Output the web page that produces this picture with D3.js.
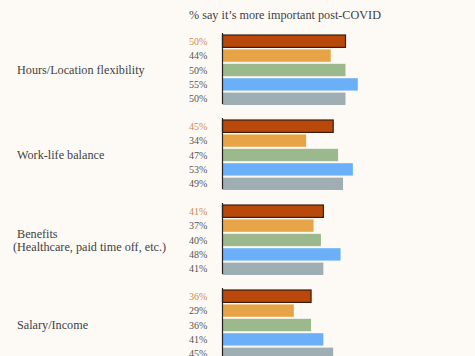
<!DOCTYPE html>
<html>
<head>
<meta charset="utf-8">
<script src="https://cdn.jsdelivr.net/npm/d3@7"></script>
<style>
html,body{margin:0;padding:0;background:#fdfaf6;}
svg{display:block;}
</style>
</head>
<body>
<svg id="chart" width="475" height="356"></svg>
<script>
const categories = ["Hours/Location flexibility", "Work-life balance", "Benefits\n(Healthcare, paid time off, etc.)", "Salary/Income"];
const seriesNames = ["All", "Group A", "Group B", "Group C", "Group D"];
const hoursValues = [50, 44, 50, 55, 50];
const workLifeValues = [45, 34, 47, 53, 49];
const benefitsValues = [41, 37, 40, 48, 41];
const salaryValues = [36, 29, 36, 41, 45];
const values = [hoursValues, workLifeValues, benefitsValues, salaryValues];
const colors = ["#b9490b", "#e7a447", "#9bb98d", "#6aaff7", "#9eaeb2"];
const title = "% say it\u2019s more important post-COVID";

const svg = d3.select("#chart");
const serif = "'Liberation Serif', serif";

const x = d3.scaleLinear().domain([0, 100]).range([222.5, 468.5]);
const groupY = d3.scaleBand().domain(d3.range(categories.length)).range([34, 374]).paddingInner(0).paddingOuter(0);
const barY = d3.scaleBand().domain(d3.range(seriesNames.length)).range([0, 72]).paddingInner(0.14).paddingOuter(0.07);

svg.append("text").attr("x", 189).attr("y", 19).attr("font-family", serif).attr("font-size", 12.2).attr("fill", "#3f3f3f").text(title);

const g = svg.selectAll("g.grp").data(values).join("g").attr("class", "grp")
  .attr("transform", (d, i) => `translate(0,${groupY(i)})`);

g.selectAll("rect").data(d => d).join("rect")
  .attr("x", x(0)).attr("y", (d, i) => barY(i)).attr("width", d => x(d) - x(0)).attr("height", barY.bandwidth())
  .attr("fill", (d, i) => colors[i])
  .attr("stroke", (d, i) => i === 0 ? "#3b1c0c" : "none").attr("stroke-width", 1.2);

g.append("line").attr("x1", x(0)).attr("x2", x(0)).attr("y1", -1).attr("y2", 70).attr("stroke", "#222").attr("stroke-width", 1.2);

g.selectAll("text.val").data(d => d).join("text").attr("class", "val")
  .attr("x", 189).attr("y", (d, i) => barY(i) + barY.bandwidth() / 2).attr("dy", "0.35em")
  .attr("font-family", serif).attr("font-size", 10).attr("fill", (d, i) => i === 0 ? "#cf8a4e" : "#555")
  .text(d => d + "%");

g.each(function(d, i) {
  const lines = categories[i].split("\n");
  const t = d3.select(this).append("text").attr("font-family", serif).attr("font-size", 12.2).attr("fill", "#3f3f3f");
  const lh = 12.5;
  lines.forEach((ln, k) => {
    t.append("tspan").attr("x", k === 0 ? 17 : 13).attr("y", 36 + (k - (lines.length - 1) / 2) * lh).attr("dy", "0.35em").text(ln);
  });
});
</script>
</body>
</html>
